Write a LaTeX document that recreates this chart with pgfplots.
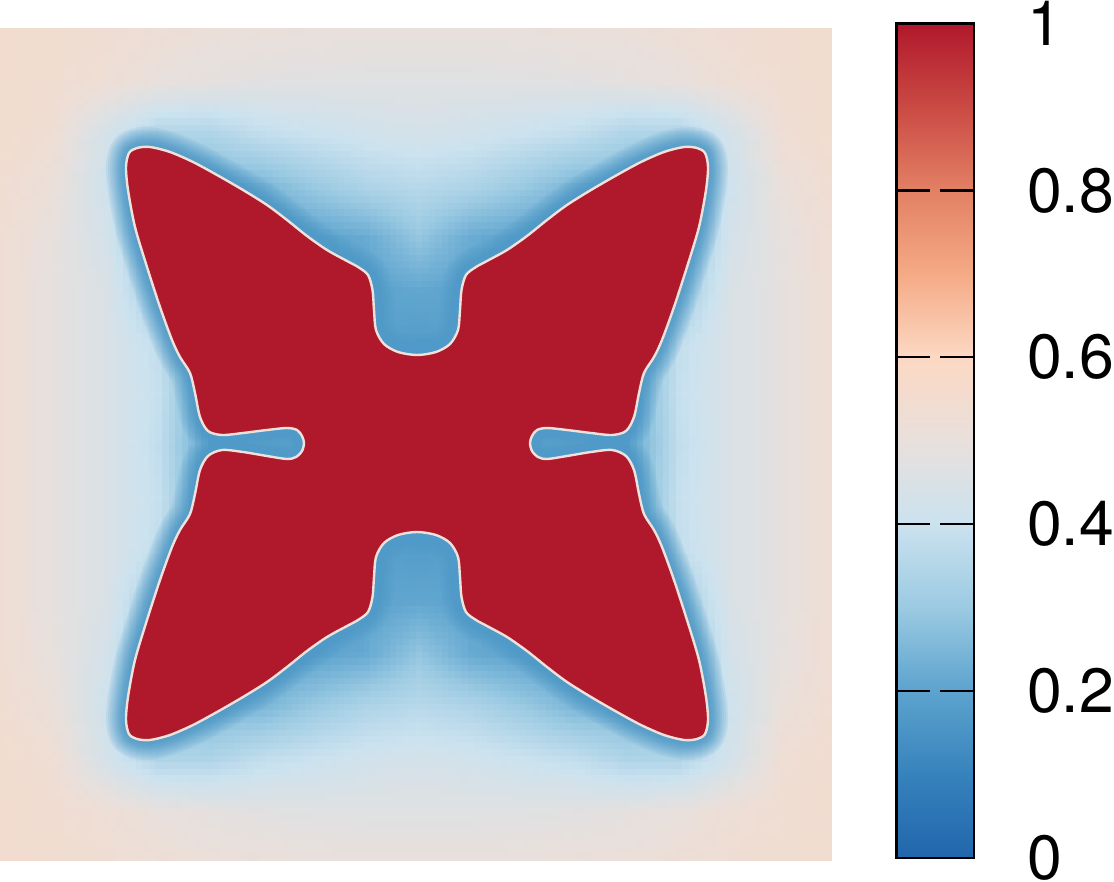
\documentclass[border=0pt]{standalone}
\usepackage{pgfplots}
\usepackage{pgfplotstable}
\usepackage{fontspec}
\usepgfplotslibrary{patchplots}
\setmainfont{TeX Gyre Heros}
\pgfplotsset{compat=1.18}
\definecolor{glow}{HTML}{4F9AC8}
\definecolor{rimc}{HTML}{F0E2DA}
\definecolor{redc}{HTML}{B0182B}
\pgfplotstableread{
x y
417 355
398 352
384 344
376 330
374 310
372.5 290
368 275
358 267
347 261
327 250
307 236
287 220
267 205
243 190
217 175
193 162
170 152
150 147
137 148
129 153
126 167
128 190
135 227
147 267
160 307
172 340
180 357
190 373
195 393
200 417
208 431
222 435
243 433
267 430
287 428
297 430
302 436
304 443
302 451
296 457
287 459
267 456
243 452
222 450
208 456
200 470
195 494
190 514
180 530
172 547
160 580
147 620
135 660
128 697
126 720
129 734
137 739
150 740
170 735
193 725
217 712
243 697
267 682
287 667
307 651
327 637
347 626
358 620
368 612
372.5 597
374 577
376 557
384 543
398 535
417 532
436 535
450 543
458 557
460 577
461.5 597
466 612
476 620
487 626
507 637
527 651
547 667
567 682
591 697
617 712
641 725
664 735
684 740
697 739
705 734
708 720
706 697
699 660
687 620
674 580
662 547
654 530
644 514
639 494
634 470
626 456
612 450
591 452
567 456
547 459
538 457
532 451
530 443
532 436
537 430
547 428
567 430
591 433
612 435
626 431
634 417
639 393
644 373
654 357
662 340
674 307
687 267
699 227
706 190
708 167
705 153
697 148
684 147
664 152
641 162
617 175
591 190
567 205
547 220
527 236
507 250
487 261
476 267
466 275
461.5 290
460 310
458 330
450 344
436 352
}\shapetab
\pgfplotsset{
 colormap={fieldmap}{
  rgb255(0)=(33,102,172)
  rgb255(10)=(54,130,188)
  rgb255(20)=(92,163,206)
  rgb255(30)=(155,202,226)
  rgb255(40)=(203,226,239)
  rgb255(50)=(232,224,220)
  rgb255(60)=(252,216,195)
  rgb255(70)=(245,170,134)
  rgb255(80)=(226,128,100)
  rgb255(90)=(202,74,68)
  rgb255(100)=(176,24,43)
 }
}
\begin{document}
\begin{tikzpicture}[x=1pt,y=1pt]
\path[use as bounding box] (0,0) rectangle (1114,882);
\begin{axis}[
  at={(0pt,22pt)},anchor=south west,
  scale only axis,width=832pt,height=832pt,
  xmin=0,xmax=832,ymin=28,ymax=860,y dir=reverse,
  hide axis,
  colormap name=fieldmap,
  point meta min=0,point meta max=1,
]
\addplot[surf,shader=interp,patch type=bilinear,mesh/cols=17,point meta=explicit] coordinates {
(0,28)[.55] (52,28)[.545] (104,28)[.535] (156,28)[.525] (208,28)[.515] (260,28)[.51] (312,28)[.505] (364,28)[.50] (416,28)[.50] (468,28)[.50] (520,28)[.505] (572,28)[.51] (624,28)[.515] (676,28)[.525] (728,28)[.535] (780,28)[.545] (832,28)[.55]
(0,80)[.55] (52,80)[.54] (104,80)[.525] (156,80)[.50] (208,80)[.485] (260,80)[.475] (312,80)[.47] (364,80)[.47] (416,80)[.47] (468,80)[.47] (520,80)[.47] (572,80)[.475] (624,80)[.485] (676,80)[.50] (728,80)[.525] (780,80)[.54] (832,80)[.55]
(0,132)[.55] (52,132)[.53] (104,132)[.43] (156,132)[.34] (208,132)[.34] (260,132)[.38] (312,132)[.40] (364,132)[.42] (416,132)[.43] (468,132)[.42] (520,132)[.40] (572,132)[.38] (624,132)[.34] (676,132)[.34] (728,132)[.43] (780,132)[.53] (832,132)[.55]
(0,184)[.54] (52,184)[.51] (104,184)[.41] (156,184)[.30] (208,184)[.25] (260,184)[.25] (312,184)[.30] (364,184)[.34] (416,184)[.36] (468,184)[.34] (520,184)[.30] (572,184)[.25] (624,184)[.25] (676,184)[.30] (728,184)[.41] (780,184)[.51] (832,184)[.54]
(0,236)[.535] (52,236)[.495] (104,236)[.43] (156,236)[.25] (208,236)[.20] (260,236)[.20] (312,236)[.20] (364,236)[.22] (416,236)[.29] (468,236)[.22] (520,236)[.20] (572,236)[.20] (624,236)[.20] (676,236)[.25] (728,236)[.43] (780,236)[.495] (832,236)[.535]
(0,288)[.535] (52,288)[.49] (104,288)[.45] (156,288)[.30] (208,288)[.20] (260,288)[.20] (312,288)[.20] (364,288)[.20] (416,288)[.21] (468,288)[.20] (520,288)[.20] (572,288)[.20] (624,288)[.20] (676,288)[.30] (728,288)[.45] (780,288)[.49] (832,288)[.535]
(0,340)[.535] (52,340)[.49] (104,340)[.45] (156,340)[.38] (208,340)[.20] (260,340)[.20] (312,340)[.20] (364,340)[.20] (416,340)[.18] (468,340)[.20] (520,340)[.20] (572,340)[.20] (624,340)[.20] (676,340)[.38] (728,340)[.45] (780,340)[.49] (832,340)[.535]
(0,392)[.535] (52,392)[.49] (104,392)[.45] (156,392)[.39] (208,392)[.20] (260,392)[.20] (312,392)[.20] (364,392)[.20] (416,392)[.18] (468,392)[.20] (520,392)[.20] (572,392)[.20] (624,392)[.20] (676,392)[.39] (728,392)[.45] (780,392)[.49] (832,392)[.535]
(0,444)[.535] (52,444)[.49] (104,444)[.45] (156,444)[.38] (208,444)[.20] (260,444)[.20] (312,444)[.20] (364,444)[.20] (416,444)[.18] (468,444)[.20] (520,444)[.20] (572,444)[.20] (624,444)[.20] (676,444)[.38] (728,444)[.45] (780,444)[.49] (832,444)[.535]
(0,496)[.535] (52,496)[.49] (104,496)[.45] (156,496)[.39] (208,496)[.20] (260,496)[.20] (312,496)[.20] (364,496)[.20] (416,496)[.18] (468,496)[.20] (520,496)[.20] (572,496)[.20] (624,496)[.20] (676,496)[.39] (728,496)[.45] (780,496)[.49] (832,496)[.535]
(0,548)[.535] (52,548)[.49] (104,548)[.45] (156,548)[.38] (208,548)[.20] (260,548)[.20] (312,548)[.20] (364,548)[.20] (416,548)[.18] (468,548)[.20] (520,548)[.20] (572,548)[.20] (624,548)[.20] (676,548)[.38] (728,548)[.45] (780,548)[.49] (832,548)[.535]
(0,600)[.535] (52,600)[.49] (104,600)[.45] (156,600)[.30] (208,600)[.20] (260,600)[.20] (312,600)[.20] (364,600)[.20] (416,600)[.21] (468,600)[.20] (520,600)[.20] (572,600)[.20] (624,600)[.20] (676,600)[.30] (728,600)[.45] (780,600)[.49] (832,600)[.535]
(0,652)[.535] (52,652)[.495] (104,652)[.43] (156,652)[.25] (208,652)[.20] (260,652)[.20] (312,652)[.20] (364,652)[.22] (416,652)[.29] (468,652)[.22] (520,652)[.20] (572,652)[.20] (624,652)[.20] (676,652)[.25] (728,652)[.43] (780,652)[.495] (832,652)[.535]
(0,704)[.54] (52,704)[.51] (104,704)[.41] (156,704)[.30] (208,704)[.25] (260,704)[.25] (312,704)[.30] (364,704)[.34] (416,704)[.36] (468,704)[.34] (520,704)[.30] (572,704)[.25] (624,704)[.25] (676,704)[.30] (728,704)[.41] (780,704)[.51] (832,704)[.54]
(0,756)[.55] (52,756)[.53] (104,756)[.43] (156,756)[.34] (208,756)[.34] (260,756)[.38] (312,756)[.40] (364,756)[.42] (416,756)[.43] (468,756)[.42] (520,756)[.40] (572,756)[.38] (624,756)[.34] (676,756)[.34] (728,756)[.43] (780,756)[.53] (832,756)[.55]
(0,808)[.55] (52,808)[.54] (104,808)[.525] (156,808)[.50] (208,808)[.485] (260,808)[.475] (312,808)[.47] (364,808)[.47] (416,808)[.47] (468,808)[.47] (520,808)[.47] (572,808)[.475] (624,808)[.485] (676,808)[.50] (728,808)[.525] (780,808)[.54] (832,808)[.55]
(0,860)[.55] (52,860)[.545] (104,860)[.535] (156,860)[.525] (208,860)[.515] (260,860)[.51] (312,860)[.505] (364,860)[.50] (416,860)[.50] (468,860)[.50] (520,860)[.505] (572,860)[.51] (624,860)[.515] (676,860)[.525] (728,860)[.535] (780,860)[.545] (832,860)[.55]
};
\pgfplotsinvokeforeach{40,36,32,28,25,22,19,17,15,13,11,9,7,5}{
 \addplot[draw=glow,draw opacity=.13,line width=#1pt,line join=round,smooth cycle,no markers] table {\shapetab};
}
\addplot[draw=rimc,line width=2.4pt,line join=round,fill=redc,smooth cycle,no markers] table {\shapetab};
\end{axis}
\begin{axis}[
  at={(896.2pt,24pt)},anchor=south west,
  scale only axis,width=77.7pt,height=834.5pt,
  xmin=0,xmax=1,ymin=0,ymax=1,
  colormap name=fieldmap,
  point meta min=0,point meta max=1,
  xtick=\empty,
  ytick={0,0.2,0.4,0.6,0.8,1},
  yticklabels={0,0.2,0.4,0.6,0.8,1},
  tick align=inside,
  ytick pos=both,
  yticklabel pos=right,
  major tick length=33.5pt,
  major tick style={black,line width=2.3pt},
  axis line style={black,line width=2.6pt},
  yticklabel style={anchor=west,inner sep=0pt,xshift=53pt,font=\fontsize{62.5}{70}\selectfont},
  axis on top,
]
\addplot[surf,shader=interp,mesh/cols=2,point meta=explicit] coordinates {
(0,0)[0] (1,0)[0]
(0,0.1)[0.1] (1,0.1)[0.1]
(0,0.2)[0.2] (1,0.2)[0.2]
(0,0.3)[0.3] (1,0.3)[0.3]
(0,0.4)[0.4] (1,0.4)[0.4]
(0,0.5)[0.5] (1,0.5)[0.5]
(0,0.6)[0.6] (1,0.6)[0.6]
(0,0.7)[0.7] (1,0.7)[0.7]
(0,0.8)[0.8] (1,0.8)[0.8]
(0,0.9)[0.9] (1,0.9)[0.9]
(0,1)[1] (1,1)[1]
};
\end{axis}
\end{tikzpicture}
\end{document}
